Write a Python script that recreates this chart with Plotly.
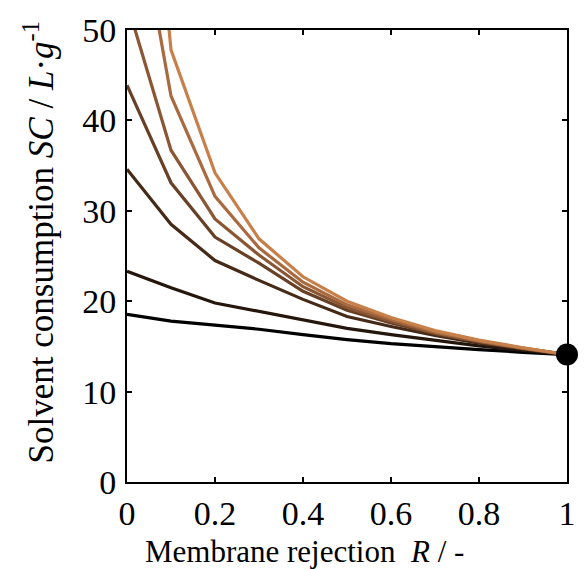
import plotly.graph_objects as go

# Membrane rejection values (x) shared by every curve
rejection = [0.0, 0.1, 0.2, 0.3, 0.4, 0.5, 0.6, 0.7, 0.8, 0.9, 1.0]

# Solvent consumption curves, darkest to lightest
sc_1 = [18.55, 17.8, 17.35, 16.9, 16.3, 15.75, 15.3, 14.95, 14.65, 14.35, 14.1]
sc_2 = [23.3, 21.5, 19.8, 18.85, 17.95, 17.0, 16.3, 15.65, 15.05, 14.55, 14.1]
sc_3 = [34.6, 28.5, 24.5, 22.3, 20.2, 18.3, 17.2, 16.2, 15.35, 14.7, 14.1]
sc_4 = [43.9, 33.1, 27.1, 24.2, 21.1, 19.0, 17.6, 16.4, 15.5, 14.75, 14.1]
sc_5 = [53.0, 36.7, 29.1, 25.1, 21.6, 19.3, 17.8, 16.5, 15.55, 14.8, 14.1]
sc_6 = [70.0, 42.7, 31.6, 25.9, 22.1, 19.6, 18.0, 16.6, 15.6, 14.8, 14.1]
sc_7 = [99.0, 47.8, 34.2, 26.9, 22.7, 20.0, 18.2, 16.75, 15.7, 14.85, 14.1]

# Full-rejection end point
end_x = [1.0]
end_y = [14.1]

curves = [sc_1, sc_2, sc_3, sc_4, sc_5, sc_6, sc_7]
colors = ["#000000", "#24160c", "#462a18", "#684026", "#8a5633",
          "#a96a3f", "#c8804b"]

fig = go.Figure()
for vals, col in zip(curves, colors):
    fig.add_trace(go.Scatter(x=rejection, y=vals, mode="lines",
                             line=dict(color=col, width=3.2),
                             showlegend=False, hoverinfo="skip"))

fig.add_trace(go.Scatter(x=end_x, y=end_y, mode="markers",
                         marker=dict(color="black", size=22),
                         cliponaxis=False, showlegend=False))

font_family = "Liberation Serif, Times New Roman, serif"
axis_common = dict(showline=True, linecolor="black", linewidth=2,
                   mirror="ticks", ticks="inside", ticklen=5, tickwidth=2,
                   tickcolor="black", showgrid=False, zeroline=False,
                   tickfont=dict(family=font_family, size=34, color="black"))

fig.update_xaxes(range=[0, 1], tickvals=[0, 0.2, 0.4, 0.6, 0.8, 1],
                 ticktext=["0", "0.2", "0.4", "0.6", "0.8", "1"],
                 ticklabelstandoff=0, **axis_common)
fig.update_yaxes(range=[0, 50], dtick=10, ticklabelstandoff=2, **axis_common)

fig.add_annotation(text="Membrane rejection  <i>R</i> / -",
                   xref="paper", yref="paper", x=0.404, y=-0.153,
                   xanchor="center", yanchor="middle", showarrow=False,
                   font=dict(family=font_family, size=31, color="black"))
fig.add_annotation(text="Solvent consumption <i>SC</i> / <i>L</i>·<i>g</i><sup>-1</sup>",
                   xref="paper", yref="paper", x=-0.2, y=0.53,
                   xanchor="center", yanchor="middle", textangle=-90,
                   showarrow=False,
                   font=dict(family=font_family, size=35, color="black"))

fig.update_layout(width=588, height=569,
                  margin=dict(l=127, r=15, t=23, b=87),
                  paper_bgcolor="white", plot_bgcolor="white")

fig.write_html("out.html")
